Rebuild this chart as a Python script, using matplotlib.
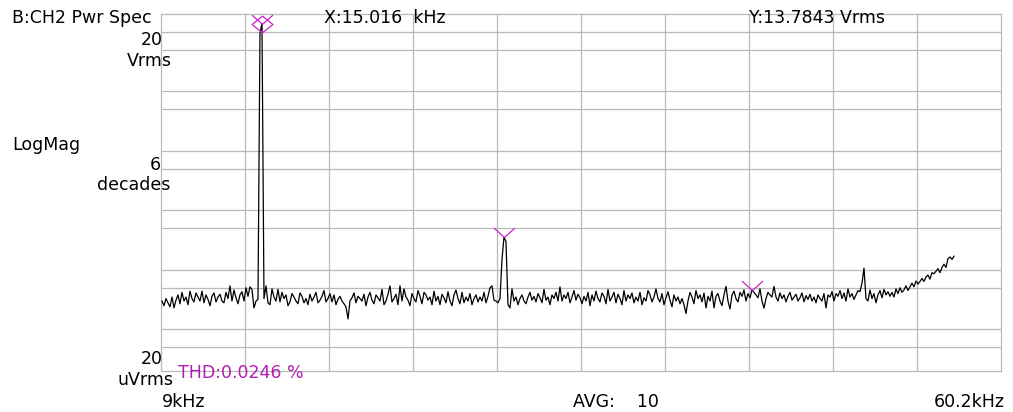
import numpy as np
import matplotlib
matplotlib.use("Agg")
import matplotlib.pyplot as plt
from matplotlib.path import Path

plt.rcParams['font.family'] = ['DejaVu Sans']

# analyzer span (kHz) and trace bins
f_start = 9.0
f_stop = 60.2
bin0 = 9.06
bin_step = 0.121905

# trace magnitude, uVrms per bin
trace_uv = [
    300, 250, 330, 280, 240, 350, 230, 310, 380, 270, 420, 300, 350, 260, 440, 330, 290, 410, 350, 300,
    440, 280, 380, 320, 250, 360, 410, 290, 350, 390, 300, 280, 420, 330, 540, 300, 460, 340, 270, 380,
    430, 300, 500, 360, 520, 470, 230, 300, 320, 9500000,
    13784300,
    330, 540, 280, 260, 480, 350, 300, 470, 290,
    420, 330, 380, 250, 290, 400, 350, 300, 270, 410, 360, 280, 330, 260, 390, 300, 350, 420, 280, 310,
    360, 450, 290, 330, 400, 290, 380, 260, 320, 360, 300, 270, 240, 150, 300, 340, 410, 280, 360, 330,
    300, 390, 250, 350, 420, 310, 270, 380, 340, 300, 470, 260, 300, 390, 540, 290, 330, 390, 260, 540,
    300, 480, 350, 310, 250, 400, 330, 290, 450, 360, 270, 420, 380, 310, 350, 260, 440, 300, 360, 260,
    390, 340, 280, 430, 300, 250, 380, 460, 330, 270, 420, 280, 350, 300, 400, 260, 330, 380, 290, 350,
    300, 420, 280, 360, 500, 540, 310, 300, 280, 330,
    1500, 3560, 3000, 260, 230,
    480, 300, 350, 260, 330, 380, 300, 270, 350, 420, 310, 360, 290, 400, 340, 280, 470, 310, 350, 260,
    380, 330, 420, 300, 520,
    300, 380, 330, 420, 280, 350, 450, 310, 390, 340, 270, 360, 300, 420, 250, 380, 300, 440, 330, 290,
    410, 360, 270, 470, 300, 350, 420, 280, 390, 330, 260, 450, 300, 380, 330, 410, 280, 350, 300, 420,
    260, 340, 300, 450, 380, 290, 350, 480, 330, 290, 400, 260, 340, 430, 310, 240, 380, 300, 350, 270,
    330, 260, 185, 300, 420, 350, 270, 450, 330, 380, 290, 410, 230, 360, 300, 440, 230, 360, 400, 300,
    250, 380, 530, 300, 220, 380, 440, 330, 290, 420, 360, 460, 300, 400, 340, 460, 420, 380, 340, 480,
    300, 228, 330, 420, 380, 350, 530, 350, 300, 410, 330, 380, 290, 360, 420, 310, 350, 390, 300, 340,
    410, 290, 370, 320, 390, 300, 350, 280, 380, 330, 300, 400, 230, 380, 350, 430, 300, 400, 360, 450,
    330, 410, 300, 480, 350, 400, 320, 380, 450, 430, 600, 1076, 330, 300, 460, 330, 400, 280, 380, 450,
    340, 470, 380, 430, 360, 420, 350, 480, 400, 500, 420, 460,
    540, 450, 520, 600, 520, 650, 580, 640, 720, 640, 760, 820, 700, 900, 860, 950, 1050, 900, 1100, 1250,
    1100, 1550, 1650, 1500, 1700,
]

# harmonic markers: fundamental, 2nd, 3rd (bin index)
marker_bins = [50, 171, 295]

y_grid = [5e-5, 1e-4, 5e-4, 1e-3, 5e-3, 1e-2, 5e-2, 1e-1, 5e-1, 1, 5, 10]

freq = bin0 + bin_step * np.arange(len(trace_uv))
mag = np.array(trace_uv) * 1e-6

fig = plt.figure(figsize=(10.13, 4.12), dpi=100)
ax = fig.add_axes([161 / 1013, 41 / 412, 840 / 1013, 357 / 412])
ax.set_yscale('log')
ax.set_xlim(f_start, f_stop)
ax.set_ylim(2e-5, 20)

grid_c = '#b9b9b9'
for k in range(1, 10):
    ax.axvline(f_start + k * (f_stop - f_start) / 10, color=grid_c, lw=0.9, zorder=1)
for g in y_grid:
    ax.axhline(g, color=grid_c, lw=0.9, zorder=1)
for s in ax.spines.values():
    s.set_color(grid_c)
    s.set_linewidth(0.9)
ax.set_xticks([])
ax.set_yticks([])
ax.minorticks_off()
ax.tick_params(which='both', left=False, bottom=False, labelleft=False, labelbottom=False)

ax.plot(freq, mag, color='black', lw=0.9, zorder=3)

# marker shapes
v_mark = Path([(-1, 0.9), (0, 0), (1, 0.9)], [Path.MOVETO, Path.LINETO, Path.LINETO])
d_mark = Path([(0, -0.8), (1, 0), (0, 0.8), (-1, 0), (0, -0.8)],
              [Path.MOVETO, Path.LINETO, Path.LINETO, Path.LINETO, Path.CLOSEPOLY])
mc = '#cc22cc'
for i in marker_bins:
    ax.plot(freq[i], mag[i], marker=v_mark, ms=15, mfc='none', mec=mc, mew=0.9,
            zorder=4, clip_on=False)
i0 = marker_bins[0]
ax.plot(freq[i0], mag[i0], marker=d_mark, ms=15, mfc='none', mec=mc, mew=0.9,
        zorder=4, clip_on=False)

# screen annotations
fs = 12.5
kw = dict(fontsize=fs, color='black', va='center', zorder=10)
fig.text(12 / 1013, 1 - 18 / 412, 'B:CH2 Pwr Spec', ha='left', **kw)
fig.text(385 / 1013, 1 - 18 / 412, 'X:15.016  kHz', ha='center', **kw)
fig.text(817 / 1013, 1 - 18 / 412, 'Y:13.7843 Vrms', ha='center', **kw)
fig.text(163 / 1013, 1 - 40 / 412, '20', ha='right', **kw)
fig.text(172 / 1013, 1 - 61 / 412, 'Vrms', ha='right', **kw)
fig.text(12 / 1013, 1 - 145 / 412, 'LogMag', ha='left', **kw)
fig.text(161 / 1013, 1 - 165 / 412, '6', ha='right', **kw)
fig.text(170 / 1013, 1 - 185 / 412, 'decades', ha='right', **kw)
fig.text(163 / 1013, 1 - 359 / 412, '20', ha='right', **kw)
fig.text(173 / 1013, 1 - 380 / 412, 'uVrms', ha='right', **kw)
fig.text(178 / 1013, 1 - 373 / 412, 'THD:0.0246 %', ha='left', fontsize=fs,
         color='#b020b0', va='center', zorder=10)
fig.text(162 / 1013, 1 - 402 / 412, '9kHz', ha='left', **kw)
fig.text(616 / 1013, 1 - 402 / 412, 'AVG:    10', ha='center', **kw)
fig.text(1005 / 1013, 1 - 402 / 412, '60.2kHz', ha='right', **kw)

fig.savefig('out.png', dpi=100)
plt.close(fig)
